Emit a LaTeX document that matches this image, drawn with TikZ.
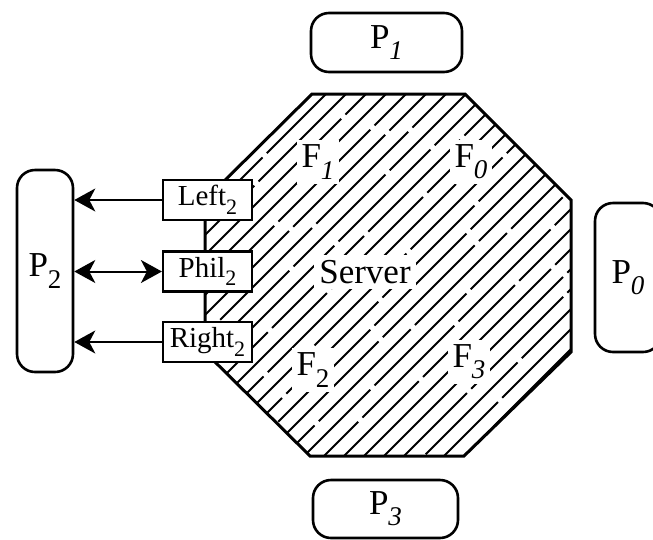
\documentclass[tikz,border=0pt]{standalone}
\usepackage{fontspec}
\setmainfont{Liberation Serif}
\usetikzlibrary{arrows.meta}
\newcommand{\bigidx}[1]{\raisebox{-0.32em}{\fontsize{27}{29}\selectfont #1}}
\newcommand{\portidx}[1]{\raisebox{-0.3em}{\fontsize{22}{24}\selectfont #1}}
\begin{document}
\begin{tikzpicture}[x=1pt, y=-1pt, >={Stealth[length=21pt,width=23pt,inset=6pt]},
  proc/.style={draw, line width=2.6pt, rounded corners=18pt, inner sep=0pt, font=\fontsize{35}{37}\selectfont},
  port/.style={draw, fill=white, line width=2.2pt, minimum width=89pt, minimum height=40pt, inner sep=1pt, font=\fontsize{29}{31}\selectfont},
  flab/.style={fill=white, inner sep=5pt, font=\fontsize{35}{37}\selectfont},
  link/.style={line width=2pt}]
\useasboundingbox (0,0) rectangle (653,539);
\pgfmathsetseed{17}

% server
\begin{scope}
\clip (312,94) -- (465,94) -- (571,200) -- (571,352) -- (464,456) -- (310,456) -- (205,352) -- (205,200) -- cycle;
\foreach \c in {400,420,...,940}{
  \pgfmathsetmacro{\ph}{136*rnd}
  \draw[line width=1.8pt, dash pattern=on 130pt off 6pt, dash phase=\ph pt] (\c-600,600) -- (\c,0);
}
\end{scope}
\node[flab] (F1) at (318,162) {F\bigidx{\textit{1}}};
\node[flab] (F0) at (471,162) {F\bigidx{\textit{0}}};
\node[flab] (F2) at (313,370) {F\bigidx{2}};
\node[flab] (F3) at (469,362) {F\bigidx{\textit{3}}};
\node[flab] (srv) at (365,272) {Server};
\draw[line width=3pt, line join=miter] (312,94) -- (465,94) -- (571,200) -- (571,352) -- (464,456) -- (310,456) -- (205,352) -- (205,200) -- cycle;

% philosophers
\node[proc, minimum width=151pt, minimum height=59pt] (P1) at (386.5,42.5) {P\bigidx{\textit{1}}};
\node[proc, minimum width=145pt, minimum height=58pt] (P3) at (385.5,509) {P\bigidx{\textit{3}}};
\node[proc, minimum width=56pt, minimum height=202pt] (P2) at (45,271) {P\bigidx{2}};
\node[proc, minimum width=66pt, minimum height=149pt] (P0) at (628,277.5) {P\bigidx{\textit{0}}};

% ports
\node[port] (Left2) at (207.5,200) {Left\portidx{2}};
\node[port] (Phil2) at (207.5,271.5) {Phil\portidx{2}};
\node[port] (Right2) at (207.5,342) {Right\portidx{2}};

\draw[link, ->] (Left2.west) -- (Left2.west -| P2.east);
\draw[link, <->] (P2.east |- Phil2.west) -- (Phil2.west);
\draw[link, ->] (Right2.west) -- (Right2.west -| P2.east);
\end{tikzpicture}
\end{document}
